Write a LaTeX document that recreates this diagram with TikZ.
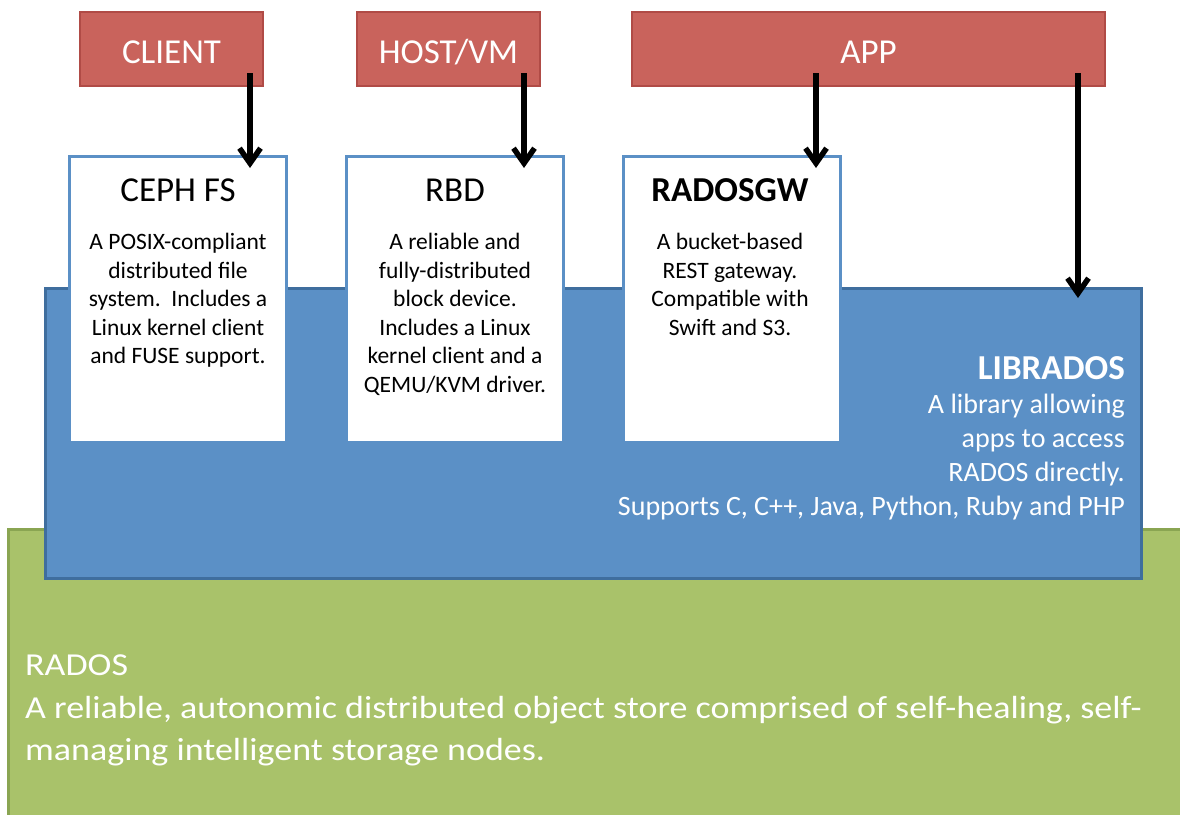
\documentclass[tikz,border=0pt]{standalone}
\usepackage{fontspec}
\setmainfont{Carlito}
\newfontfamily\radosfont[FakeStretch=1.125]{Carlito}
\usetikzlibrary{arrows.meta,calc}

\definecolor{appred}{HTML}{C9635C}
\definecolor{appredline}{HTML}{B04B46}
\definecolor{libblue}{HTML}{5B90C6}
\definecolor{libblueline}{HTML}{3F6E9E}
\definecolor{radosgreen}{HTML}{A9C26A}
\definecolor{radosgreenline}{HTML}{8AA552}

\tikzset{
  userbox/.style={draw=appredline, fill=appred, line width=2.5pt, text=white,
    font=\fontsize{35}{40}\selectfont, minimum height=74pt, inner sep=0pt,
    outer sep=0pt, text height=28pt, text depth=0pt, anchor=north west},
  svcbox/.style={draw=libblue, fill=white, line width=3pt, minimum width=217pt,
    minimum height=286pt, inner sep=0pt, outer sep=0pt, anchor=north west},
  svctitle/.style={font=\fontsize{35}{40}\selectfont, inner sep=0pt},
  svctext/.style={align=center, font=\fontsize{23.5}{28.5}\selectfont,
    inner sep=0pt, anchor=north},
  access/.style={line width=5.5pt, -{Straight Barb[length=15pt,width=21pt]}},
}

\begin{document}
\begin{tikzpicture}[x=1pt, y=-1pt]
  \clip (0,0) rectangle (1180,814);

  % layers
  \node[draw=radosgreenline, fill=radosgreen, line width=3pt, outer sep=0pt,
    minimum width=1200pt, minimum height=300pt, anchor=north west] (rados) at (8,529) {};
  \node[draw=libblueline, fill=libblue, line width=3pt, outer sep=0pt,
    minimum width=1096pt, minimum height=290pt, anchor=north west] (librados) at (45,288) {};

  % services
  \node[svcbox] (cephfs) at (69,156) {};
  \node[svcbox] (rbd) at (346,156) {};
  \node[svcbox] (radosgw) at (623,156) {};

  \node[svctitle] (cephfs-title) at (178,190) {CEPH FS};
  \node[svctext] (cephfs-text) at (178,233) {A POSIX-compliant\\distributed file\\system.\ \ Includes a\\Linux kernel client\\and FUSE support.};
  \node[svctitle] (rbd-title) at (455,190) {RBD};
  \node[svctext] (rbd-text) at (455,233) {A reliable and\\fully-distributed\\block device.\\Includes a Linux\\kernel client and a\\QEMU/KVM driver.};
  \node[svctitle, font=\fontsize{35}{40}\selectfont\bfseries] (radosgw-title) at (730,190) {RADOSGW};
  \node[svctext] (radosgw-text) at (730,233) {A bucket-based\\REST gateway.\\Compatible with\\Swift and S3.};

  % librados and rados labels
  \node[svctitle, text=white, font=\fontsize{35}{40}\selectfont\bfseries, anchor=east] (librados-title) at (1125,368) {LIBRADOS};
  \node[align=right, text=white, font=\fontsize{28}{34}\selectfont, inner sep=0pt, anchor=north east] (librados-text) at (1125,394) {A library allowing\\apps to access\\RADOS directly.\\Supports C, C++, Java, Python, Ruby and PHP};
  \node[align=left, text=white, font=\radosfont\fontsize{32}{42.5}\selectfont, inner sep=0pt, anchor=north west] (rados-text) at (25,655) {RADOS\\A reliable, autonomic distributed object store comprised of self-healing, self-\\managing intelligent storage nodes.};

  % users
  \node[userbox, minimum width=183pt] (client) at (80,12) {CLIENT};
  \node[userbox, minimum width=183pt] (host) at (357,12) {HOST/VM};
  \node[userbox, minimum width=473pt] (app) at (632,12) {APP};

  % access paths
  \coordinate (client-out) at ([xshift=-13pt,yshift=13pt]client.south east);
  \coordinate (host-out) at ([xshift=-16pt,yshift=13pt]host.south east);
  \coordinate (app-out1) at ([xshift=184pt,yshift=13pt]app.south west);
  \coordinate (app-out2) at ([xshift=-27pt,yshift=13pt]app.south east);
  \draw[access] (client-out) -- ($(client-out |- cephfs.north)+(0,12)$);
  \draw[access] (host-out) -- ($(host-out |- rbd.north)+(0,12)$);
  \draw[access] (app-out1) -- ($(app-out1 |- radosgw.north)+(0,12)$);
  \draw[access] (app-out2) -- ($(app-out2 |- librados.north)+(0,10)$);
\end{tikzpicture}
\end{document}
